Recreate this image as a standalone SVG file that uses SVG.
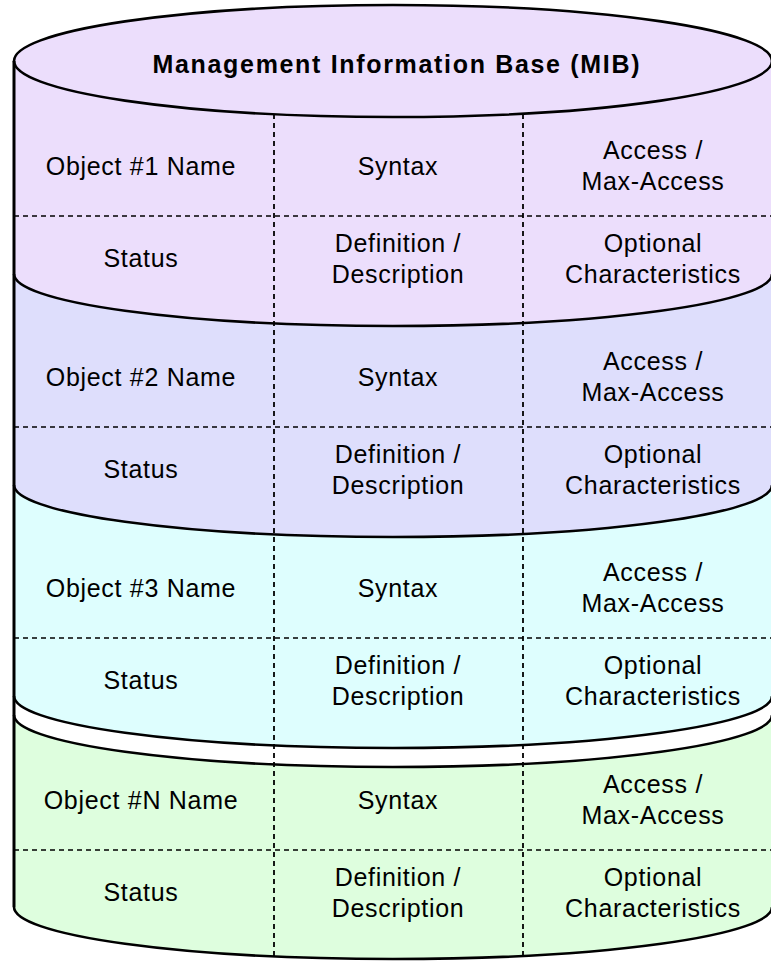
<svg xmlns="http://www.w3.org/2000/svg" width="771" height="962" viewBox="0 0 771 962">
<style>
.t{font-family:"Liberation Sans",Arial,sans-serif;font-size:25px;fill:#000;text-anchor:middle;letter-spacing:0.7px}
.title{font-family:"Liberation Sans",Arial,sans-serif;font-size:25px;font-weight:bold;fill:#000;text-anchor:middle}
.edge{fill:none;stroke:#000;stroke-width:2.6}
.wall{fill:none;stroke:#000;stroke-width:3}
.dash{fill:none;stroke:#000;stroke-width:1.5;stroke-dasharray:5,4}
.vdash{fill:none;stroke:#000;stroke-width:1.8;stroke-dasharray:5,4}
</style>
<rect x="0" y="0" width="771" height="962" fill="#fff"/>
<g id="object1">
<path d="M14,61 A379,56 0 0 1 772,61 L772,274 A379,52 0 0 1 14,274 Z" fill="#ECDEFC"/>
</g>
<g id="object2">
<path d="M14,274 A379,52 0 0 0 772,274 L772,485 A379,52 0 0 1 14,485 Z" fill="#DEDEFC"/>
</g>
<g id="object3">
<path d="M14,485 A379,52 0 0 0 772,485 L772,696 A379,52 0 0 1 14,696 Z" fill="#DEFEFE"/>
</g>
<g id="objectN">
<path d="M14,715 A379,52 0 0 0 772,715 L772,907 A379,52 0 0 1 14,907 Z" fill="#DEFEDE"/>
</g>
<g id="connectors">
<path class="dash" d="M14,216 H771 M14,427 H771 M14,638 H771 M14,850 H771"/>
<path class="vdash" d="M274,114 V956 M523,114 V956"/>
</g>
<g id="outline">
<ellipse class="edge" cx="393" cy="61" rx="379" ry="56"/>
<path class="edge" d="M14,274 A379,52 0 0 0 772,274"/>
<path class="edge" d="M14,485 A379,52 0 0 0 772,485"/>
<path class="edge" d="M14,696 A379,52 0 0 0 772,696"/>
<path class="edge" d="M14,715 A379,52 0 0 0 772,715"/>
<path class="edge" d="M14,907 A379,52 0 0 0 772,907"/>
<path class="wall" d="M14,61 V907"/>
</g>
<g id="title">
<text class="title" x="396" y="73" textLength="487" lengthAdjust="spacing">Management Information Base (MIB)</text>
</g>
<g id="labels1">
<text class="t" x="141" y="175">Object #1 Name</text>
<text class="t" x="398" y="175">Syntax</text>
<text class="t" x="653" y="159">Access /</text>
<text class="t" x="653" y="190">Max-Access</text>
<text class="t" x="141" y="267">Status</text>
<text class="t" x="398" y="252">Definition /</text>
<text class="t" x="398" y="283">Description</text>
<text class="t" x="653" y="252">Optional</text>
<text class="t" x="653" y="283">Characteristics</text>
</g>
<g id="labels2">
<text class="t" x="141" y="386">Object #2 Name</text>
<text class="t" x="398" y="386">Syntax</text>
<text class="t" x="653" y="370">Access /</text>
<text class="t" x="653" y="401">Max-Access</text>
<text class="t" x="141" y="478">Status</text>
<text class="t" x="398" y="463">Definition /</text>
<text class="t" x="398" y="494">Description</text>
<text class="t" x="653" y="463">Optional</text>
<text class="t" x="653" y="494">Characteristics</text>
</g>
<g id="labels3">
<text class="t" x="141" y="597">Object #3 Name</text>
<text class="t" x="398" y="597">Syntax</text>
<text class="t" x="653" y="581">Access /</text>
<text class="t" x="653" y="612">Max-Access</text>
<text class="t" x="141" y="689">Status</text>
<text class="t" x="398" y="674">Definition /</text>
<text class="t" x="398" y="705">Description</text>
<text class="t" x="653" y="674">Optional</text>
<text class="t" x="653" y="705">Characteristics</text>
</g>
<g id="labelsN">
<text class="t" x="141" y="809">Object #N Name</text>
<text class="t" x="398" y="809">Syntax</text>
<text class="t" x="653" y="793">Access /</text>
<text class="t" x="653" y="824">Max-Access</text>
<text class="t" x="141" y="901">Status</text>
<text class="t" x="398" y="886">Definition /</text>
<text class="t" x="398" y="917">Description</text>
<text class="t" x="653" y="886">Optional</text>
<text class="t" x="653" y="917">Characteristics</text>
</g>
</svg>
